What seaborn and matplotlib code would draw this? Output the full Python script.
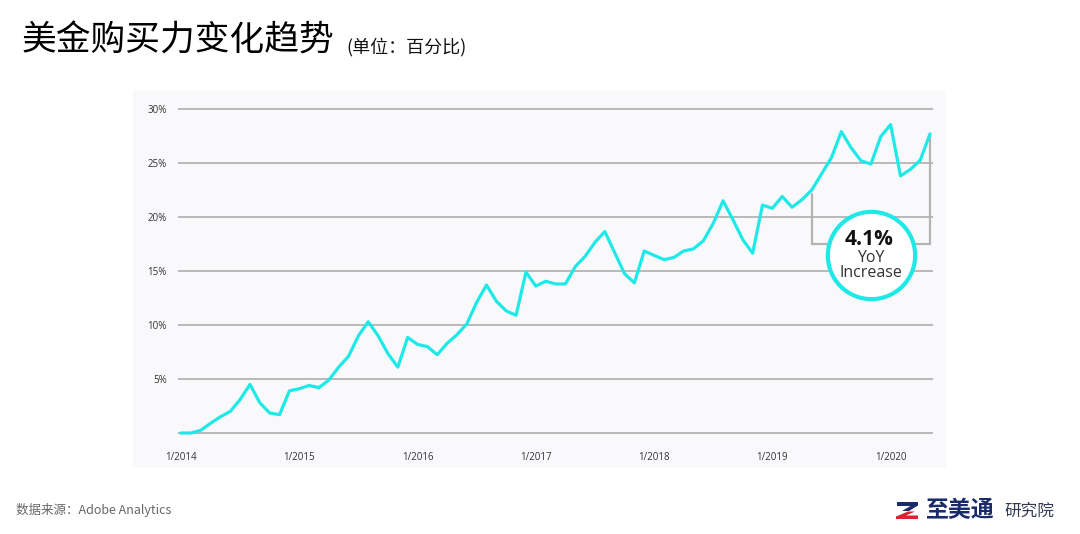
import matplotlib
matplotlib.use("Agg")
import numpy as np
import pandas as pd
import matplotlib.pyplot as plt
import seaborn as sns
from matplotlib.patches import Rectangle, Polygon

# ---------------- data ----------------
title = "美金购买力变化趋势"
subtitle = "(单位：百分比)"
source_text = "数据来源：Adobe Analytics"
logo_main = "至美通"
logo_sub = "研究院"

year_labels = ["1/2014", "1/2015", "1/2016", "1/2017", "1/2018", "1/2019", "1/2020"]
year_ticks = [0, 12, 24, 36, 48, 60, 72]

values_2014 = [0.0, 0.0, 0.25, 0.9, 1.5, 2.0, 3.1, 4.5, 2.8, 1.85, 1.7, 3.9]
values_2015 = [4.1, 4.4, 4.2, 4.9, 6.1, 7.1, 9.0, 10.3, 9.0, 7.35, 6.1, 8.85]
values_2016 = [8.2, 8.0, 7.25, 8.3, 9.1, 10.1, 12.1, 13.7, 12.2, 11.3, 10.9, 14.9]
values_2017 = [13.6, 14.05, 13.8, 13.8, 15.4, 16.35, 17.65, 18.65, 16.7, 14.75, 13.9, 16.85]
values_2018 = [16.45, 16.05, 16.25, 16.85, 17.05, 17.8, 19.4, 21.5, 19.75, 17.9, 16.65, 21.1]
values_2019 = [20.8, 21.9, 20.9, 21.6, 22.5, 24.0, 25.5, 27.9, 26.4, 25.2, 24.9, 27.45]
values_2020 = [28.55, 23.8, 24.4, 25.25, 27.7]

yticks = [0, 5, 10, 15, 20, 25, 30]
ytick_labels = ["", "5%", "10%", "15%", "20%", "25%", "30%"]

annot_value = "4.1%"
annot_line1 = "YoY"
annot_line2 = "Increase"
bracket_start = 64      # May 2019
bracket_end = 76        # May 2020
bracket_base = 17.5
circle_x = 70.0
circle_y = 16.45

values = (values_2014 + values_2015 + values_2016 + values_2017 +
          values_2018 + values_2019 + values_2020)
df = pd.DataFrame({"month": np.arange(len(values)), "value": values})

# ---------------- style ----------------
sns.set_theme(style="whitegrid")
plt.rcParams["font.family"] = ["Noto Sans CJK SC", "DejaVu Sans"]

CYAN = "#1fe9e6"
GRID = "#a8a8a8"
PANEL = "#f9f9fc"
LATIN = ["Open Sans", "DejaVu Sans"]

W, H = 1080, 534
fig = plt.figure(figsize=(W / 100, H / 100), dpi=100)
fig.patch.set_facecolor("white")

def fx(x):
    return x / W

def fy(y):
    return 1 - y / H

# panel background
fig.patches.append(Rectangle((fx(133), fy(468)), (946 - 133) / W, (468 - 90) / H,
                             transform=fig.transFigure, facecolor=PANEL,
                             edgecolor="none", zorder=-10))

ax = fig.add_axes([fx(178), fy(440), (933 - 178) / W, (440 - 100) / H])
ax.set_zorder(1)
ax.patch.set_alpha(0)

sns.lineplot(data=df, x="month", y="value", ax=ax, color=CYAN,
             linewidth=2.3, zorder=4)

ax.set_xlim(-0.304, 76.3)
ax.set_ylim(-0.648, 30.83)
ax.set_xticks(year_ticks)
ax.set_xticklabels(year_labels, fontsize=7, color="#333333", family=LATIN)
ax.set_yticks(yticks)
ax.set_yticklabels(ytick_labels, fontsize=7, color="#333333", family=LATIN)
ax.tick_params(axis="y", length=0, pad=8)
ax.tick_params(axis="x", length=0, pad=9)
ax.grid(axis="y", color=GRID, linewidth=1.1)
ax.grid(axis="x", visible=False)
for s in ax.spines.values():
    s.set_visible(False)
ax.set_xlabel("")
ax.set_ylabel("")

# bracket
ax.plot([bracket_start, bracket_start, bracket_end, bracket_end],
        [values[bracket_start] - 0.4, bracket_base, bracket_base, values[bracket_end]],
        color="#b3b3b3", linewidth=1.6, zorder=3, solid_joinstyle="miter")

# circle
ax.scatter([circle_x], [circle_y], s=3950, facecolor="white", edgecolor=CYAN,
           linewidth=3.0, zorder=6, clip_on=False)
ax.text(circle_x - 0.15, circle_y + 1.45, annot_value, ha="center", va="center",
        fontsize=15, fontweight="bold", color="#111111", zorder=7, family=LATIN)
ax.text(circle_x, circle_y - 0.25, annot_line1, ha="center", va="center",
        fontsize=11.5, color="#333333", zorder=7, family=LATIN)
ax.text(circle_x, circle_y - 1.65, annot_line2, ha="center", va="center",
        fontsize=11.5, color="#333333", zorder=7, family=LATIN)

# titles
fig.text(fx(22), fy(41), title, fontsize=25, color="#000000", va="center", ha="left")
fig.text(fx(346), fy(47), subtitle, fontsize=13, color="#111111", va="center", ha="left")

# footer
fig.text(fx(16), fy(510), source_text, fontsize=9, color="#666666", va="center", ha="left")

# logo
navy = "#1b2a6b"
red = "#e0202e"
fig.patches.append(Polygon([(fx(897), fy(502)), (fx(918), fy(502)), (fx(918), fy(505.5)),
                            (fx(909), fy(511)), (fx(902), fy(511)), (fx(910.5), fy(506)),
                            (fx(897), fy(506))],
                           closed=True, transform=fig.transFigure, facecolor=navy,
                           edgecolor="none"))
fig.patches.append(Polygon([(fx(908), fy(511.5)), (fx(915), fy(511.5)), (fx(906), fy(515.5)),
                            (fx(918), fy(515.5)), (fx(918), fy(519)), (fx(896), fy(519)),
                            (fx(896), fy(516.5))],
                           closed=True, transform=fig.transFigure, facecolor=red,
                           edgecolor="none"))
fig.text(fx(926), fy(510), logo_main, fontsize=16.5, fontweight="bold", color=navy,
         va="center", ha="left")
fig.text(fx(1004), fy(511), logo_sub, fontsize=12, color="#333a55", va="center", ha="left")

fig.savefig("out.png", dpi=100, facecolor="white")
